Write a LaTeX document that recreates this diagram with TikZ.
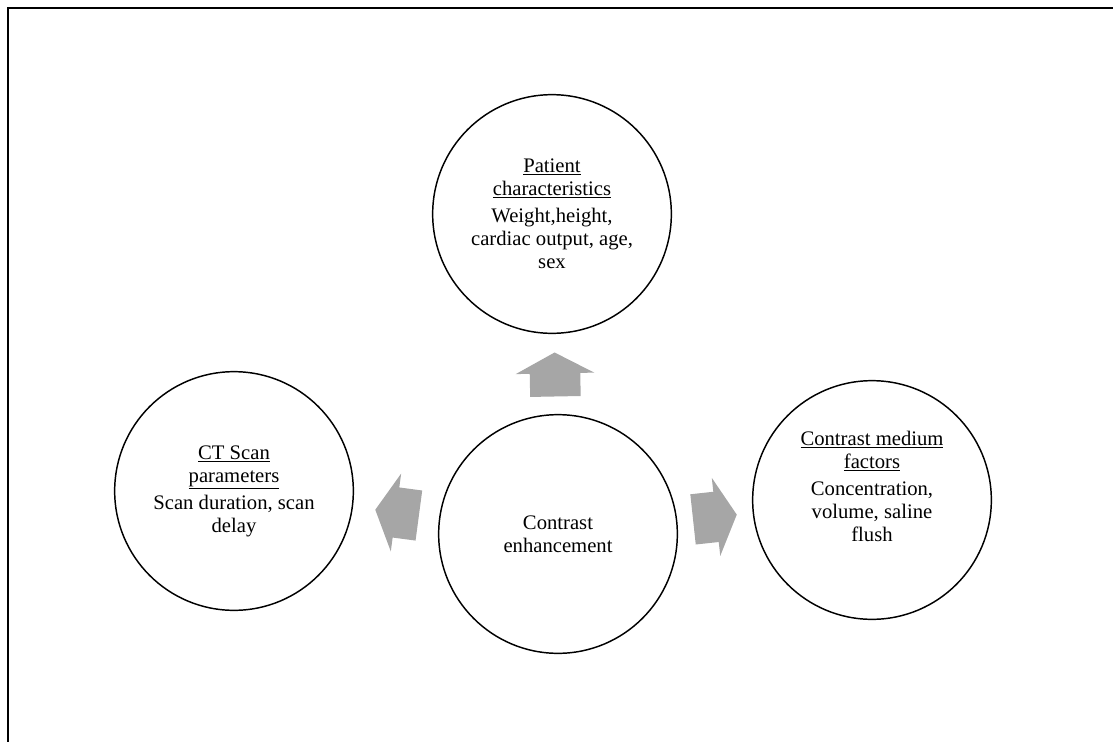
\documentclass[tikz,border=0pt]{standalone}
\usepackage{fontspec}
\setmainfont{Liberation Serif}
\usetikzlibrary{positioning,calc,shapes.arrows}
\definecolor{radialgray}{RGB}{166,166,166}
\tikzset{
    radial circle/.style={
        circle,
        draw=black,
        line width=1.1pt,
        minimum size=179pt,
        inner sep=0pt,
        align=center,
        font=\fontsize{15.5}{17.3}\selectfont
    },
    radial arrow/.style={
        single arrow,
        fill=radialgray,
        draw=none,
        minimum height=33pt,
        inner xsep=0pt,
        inner ysep=18.75pt,
        single arrow head extend=10.5pt,
        single arrow tip angle=124,
        sloped,
        allow upside down,
        pos=0.41
    }
}
\newcommand{\hdline}[1]{\underline{#1}}

\begin{document}
\begin{tikzpicture}[x=0.75pt,y=-0.75pt]
    \useasboundingbox (0,0) rectangle (1113,742);
    %frame of the slide (only top and left edge show)
    \draw[line width=1.5pt] (8,742) -- (8,8) -- (1113,8);

    %hub in the middle, factors around it
    \node[radial circle] (hub) at (558,534) {Contrast\\enhancement};
    \node[radial circle] (patient) at ($(hub) + (-6,-320)$) {\hdline{Patient}\\\hdline{characteristics}\\[3pt]Weight,height,\\cardiac output, age,\\sex};
    \node[radial circle] (ctscan) at ($(hub) + (-324,-43)$) {\hdline{CT Scan}\\\hdline{parameters}\\[3pt]Scan duration, scan\\delay};
    \node[radial circle,text depth=21pt] (medium) at ($(hub) + (314,-34)$) {\hdline{Contrast medium}\\\hdline{factors}\\[3pt]Concentration,\\volume, saline\\flush};

    %block arrows from the hub outwards
    \path (hub) -- node[radial arrow] (arrow-patient) {} (patient);
    \path (hub) -- node[radial arrow] (arrow-ctscan) {} (ctscan);
    \path (hub) -- node[radial arrow] (arrow-medium) {} (medium);
\end{tikzpicture}
\end{document}
